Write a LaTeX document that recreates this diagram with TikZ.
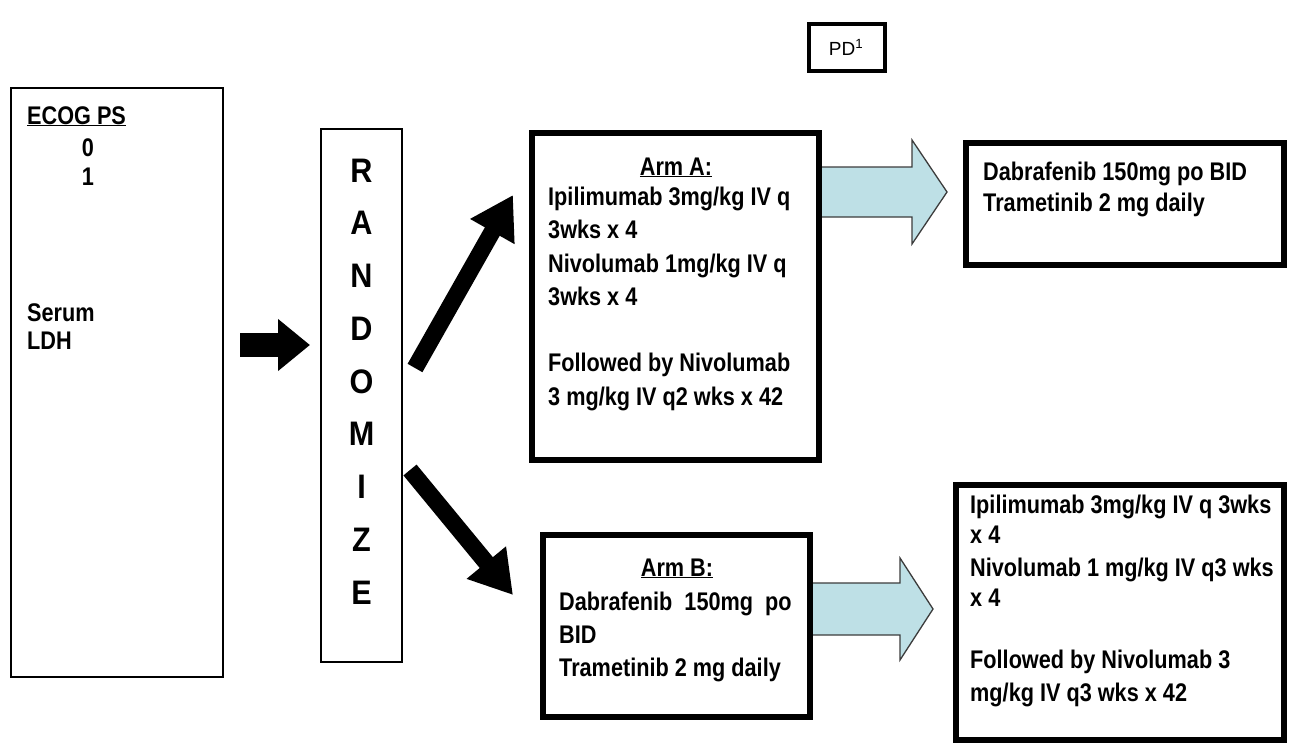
\documentclass[tikz,border=0pt]{standalone}
\usepackage{fontspec}
\setmainfont{Liberation Sans}[FakeStretch=0.85]
\newfontfamily\widefont{Liberation Sans}
\newfontfamily\letfont{Liberation Sans}[FakeStretch=0.9]
\usetikzlibrary{arrows.meta,calc}
\pgfdeclarelayer{bg}
\pgfsetlayers{bg,main}
\definecolor{arrowblue}{RGB}{190,224,230}
\definecolor{edgegray}{RGB}{60,60,60}
\newcommand\armtxt{\fontsize{25.5}{30}\selectfont\bfseries}
\newcommand\lettxt{\letfont\fontsize{34}{34}\selectfont\bfseries}
\newcommand\pdtxt{\widefont\fontsize{19}{22}\selectfont}
\begin{document}
\begin{tikzpicture}[x=1pt,y=-1pt,
  thinbox/.style={draw=black,line width=2pt,fill=white,inner sep=0pt},
  thickbox/.style={draw=black,line width=6pt,fill=white,inner sep=0pt},
  txt/.style={anchor=base west,inner sep=0pt,font=\armtxt},
  ttl/.style={anchor=base,inner sep=0pt,font=\armtxt},
  letter/.style={anchor=base,inner sep=0pt,font=\lettxt},
  blk/.style={draw=black,line width=24pt,-{Triangle[length=32pt,width=50pt]}},
  blkd/.style={draw=black,line width=17pt,-{Triangle[length=42pt,width=48pt]}},
  bluearrow/.style={draw=edgegray,line width=1.3pt,fill=arrowblue,line join=miter}]
\useasboundingbox (0,0) rectangle (1289,744);

% boxes
\node[thinbox,minimum width=212,minimum height=589] (elig) at (117,382.5) {};
\node[thinbox,minimum width=81,minimum height=533] (rand) at (361.5,395.5) {};
\node[thickbox,minimum width=287,minimum height=327] (armA) at (675.5,296.5) {};
\node[thickbox,minimum width=267,minimum height=182] (armB) at (676.5,626) {};
\node[thickbox,minimum width=318,minimum height=122] (postA) at (1125,204) {};
\node[thickbox,minimum width=328,minimum height=255] (postB) at (1120,612.5) {};
\node[draw=black,line width=4pt,fill=white,inner sep=0pt,minimum width=76,minimum height=47] (pd) at (847,47.5) {};

% PD label
\node[anchor=base,inner sep=0pt,font=\pdtxt] (pdt) at (846,55) {PD\textsuperscript{1}};

% eligibility text
\node[txt] (e1) at (27,124) {\underline{ECOG PS}};
\node[ttl] (e2) at (88,156) {0};
\node[ttl] (e3) at (88,185) {1};
\node[txt] (e4) at (27,321) {Serum};
\node[txt] (e5) at (27,349) {LDH};

% RANDOMIZE
\foreach \l [count=\i] in {R,A,N,D,O,M,I,Z,E}
  \node[letter] (rl\i) at (361.5,{170+52.75*(\i-1)+12}) {\l};

% Arm A
\node[ttl] (aA) at (676,175) {\underline{Arm A:}};
\node[txt] (a1) at (548,205) {Ipilimumab 3mg/kg IV q};
\node[txt] (a2) at (548,238) {3wks x 4};
\node[txt] (a3) at (548,272) {Nivolumab 1mg/kg IV q};
\node[txt] (a4) at (548,305) {3wks x 4};
\node[txt] (a5) at (548,371) {Followed by Nivolumab};
\node[txt] (a6) at (548,405) {3 mg/kg IV q2 wks x 42};

% Arm B
\node[ttl] (bB) at (677,576) {\underline{Arm B:}};
\node[txt] (b1) at (559,610) {Dabrafenib\ \ 150mg\ \ po};
\node[txt] (b2) at (559,643) {BID};
\node[txt] (b3) at (559,676) {Trametinib 2 mg daily};

% post-progression A
\node[txt] (c1) at (983,180) {Dabrafenib 150mg po BID};
\node[txt] (c2) at (983,211) {Trametinib 2 mg daily};

% post-progression B
\node[txt] (d1) at (970,513) {Ipilimumab 3mg/kg IV q 3wks};
\node[txt] (d2) at (970,543) {x 4};
\node[txt] (d3) at (970,576) {Nivolumab 1 mg/kg IV q3 wks};
\node[txt] (d4) at (970,606) {x 4};
\node[txt] (d5) at (970,668) {Followed by Nivolumab 3};
\node[txt] (d6) at (970,701) {mg/kg IV q3 wks x 42};

% black arrows
\coordinate (hs) at (240,345);
\coordinate (he) at (310,345);
\draw[blk] (hs) -- (he);
\coordinate (us) at (415,368);
\coordinate (ue) at (513,195);
\draw[blkd] (us) -- (ue);
\coordinate (ls) at (410,470);
\coordinate (le) at (513,595);
\draw[blkd] (ls) -- (le);

% blue block arrows
\coordinate (tipA) at (947,192);
\coordinate (tipB) at (933,609);
\path (armA.center |- tipA) coordinate (sA);
\path (armB.center |- tipB) coordinate (sB);
\begin{pgfonlayer}{bg}
\draw[bluearrow] ($(sA)+(0,-25)$) -- ($(tipA)+(-35,-25)$) -- ($(tipA)+(-35,-52)$) -- (tipA)
  -- ($(tipA)+(-35,52)$) -- ($(tipA)+(-35,25)$) -- ($(sA)+(0,25)$) -- cycle;
\draw[bluearrow] ($(sB)+(0,-26)$) -- ($(tipB)+(-33,-26)$) -- ($(tipB)+(-33,-51)$) -- (tipB)
  -- ($(tipB)+(-33,51)$) -- ($(tipB)+(-33,26)$) -- ($(sB)+(0,26)$) -- cycle;
\end{pgfonlayer}
\end{tikzpicture}
\end{document}
